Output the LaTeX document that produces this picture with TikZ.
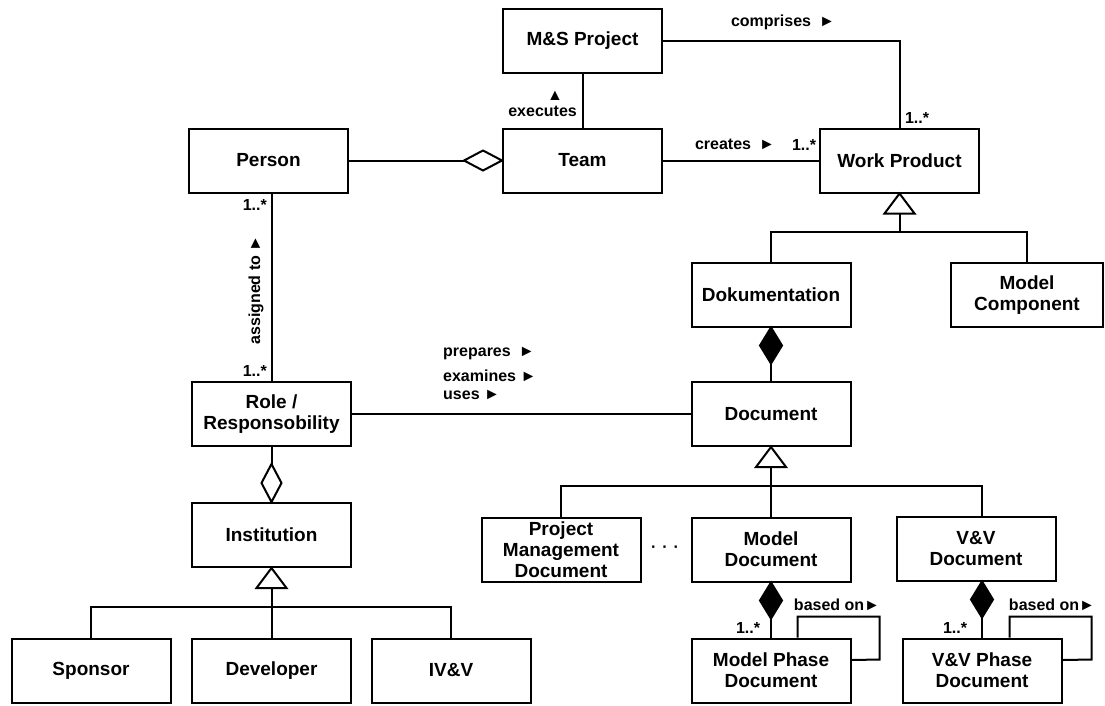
\documentclass[tikz,border=0pt]{standalone}
\usepackage{fontspec}
\setmainfont{Liberation Sans}
\usetikzlibrary{calc}
\begin{document}
\begin{tikzpicture}[x=1pt,y=-1pt,
  cls/.style={draw,line width=2pt,rectangle,minimum width=159pt,minimum height=64pt,
    inner sep=0pt,align=center,font=\fontsize{19}{21}\selectfont\bfseries},
  lbl/.style={font=\fontsize{16}{18}\selectfont\bfseries,inner sep=0pt},
  conn/.style={line width=2pt},
  hollow/.style={line width=2pt,fill=white},
  solid/.style={line width=2pt,fill=black}]
\useasboundingbox (0,0) rectangle (1105,705);

% classes
\node[cls] (msp) at (582.5,40.5) {M\&S Project};
\node[cls] (team) at (582.5,160.5) {Team};
\node[cls] (person) at (268.5,160.5) {Person};
\node[cls] (wp) at (899.5,160.5) {Work Product};
\node[cls] (doku) at (771,294.5) {Dokumentation};
\node[cls,minimum width=152pt] (mc) at (1027,295) {Model\\Component};
\node[cls] (role) at (271.5,414) {Role /\\Responsobility};
\node[cls] (inst) at (271.5,535) {Institution};
\node[cls] (spon) at (91,670.5) {Sponsor};
\node[cls] (dev) at (271.5,670.5) {Developer};
\node[cls] (ivv) at (451,670.5) {IV\&V};
\node[cls] (doc) at (771,414) {Document};
\node[cls] (pmd) at (561,550) {Project\\Management\\Document};
\node[cls] (mdoc) at (771,549.5) {Model\\Document};
\node[cls] (vvdoc) at (976,548.5) {V\&V\\Document};
\node[cls] (mpd) at (771,670.5) {Model Phase\\Document};
\node[cls] (vvpd) at (982,670.5) {V\&V Phase\\Document};

% team aggregates persons
\draw[conn] (person.east) -- ($(team.west)+(-38,0)$);
\draw[hollow] (team.west) -- ++(-19,-10) -- ++(-19,10) -- ++(19,10) -- cycle;

% project executed by team
\draw[conn] (msp.south) -- (team.north);
\node[lbl,anchor=east] (lexec) at (577,111) {executes};
\node[lbl] (lexecarr) at (555,96) {▲};

% project comprises work products
\draw[conn] (msp.east) -| (wp.north);
\node[lbl] (lcomp) at (783,22) {comprises\enspace►};
\node[lbl] (mcomp) at (917,118) {1..*};

% team creates work products
\draw[conn] (team.east) -- (wp.west);
\node[lbl] (lcreate) at (735,144) {creates\enspace►};
\node[lbl] (mcreate) at (804,145) {1..*};

% work product specialisations
\draw[hollow] (wp.south) -- ++(-15,20) -- ++(30,0) -- cycle;
\draw[conn] ($(wp.south)+(0,20)$) -- ++(0,18) coordinate (wpbar);
\draw[conn] (wpbar) -| (doku.north);
\draw[conn] (wpbar) -| (mc.north);

% documentation is composed of documents
\draw[solid] (doku.south) -- ++(-11,18) -- ++(11,18) -- ++(11,-18) -- cycle;
\draw[conn] ($(doku.south)+(0,36)$) -- (doc.north);

% person assigned to role
\draw[conn] (person.south -| role.north) -- (role.north);
\node[lbl,anchor=east] (mp1) at (267,205) {1..*};
\node[lbl,anchor=east] (mp2) at (267,371) {1..*};
\node[lbl,rotate=90] (lassign) at (256,290) {assigned to ►};

% role works on documents
\draw[conn] (role.east) -- (doc.west);
\node[lbl,anchor=west] (lprep) at (443,353) {prepares\enspace►};
\node[lbl,anchor=west] (lexam) at (443,376) {examines ►};
\node[lbl,anchor=west] (luses) at (443,395) {uses ►};

% institution aggregates roles
\draw[conn] (role.south) -- ($(inst.north)+(0,-38)$);
\draw[hollow] (inst.north) -- ++(-10,-19) -- ++(10,-19) -- ++(10,19) -- cycle;

% institution specialisations
\draw[hollow] (inst.south) -- ++(-15,20) -- ++(30,0) -- cycle;
\draw[conn] ($(inst.south)+(0,20)$) -- ++(0,19) coordinate (ibar);
\draw[conn] (ibar) -| (spon.north);
\draw[conn] (ibar) -| (ivv.north);
\draw[conn] (ibar) -- (dev.north);

% document specialisations
\draw[hollow] (doc.south) -- ++(-15,20) -- ++(30,0) -- cycle;
\draw[conn] ($(doc.south)+(0,20)$) -- ++(0,18.5) coordinate (dbar);
\draw[conn] (dbar) -| (pmd.north);
\draw[conn] (dbar) -| ($(vvdoc.north)+(6,0)$);
\draw[conn] (dbar) -- (mdoc.north);
\node[lbl] (dots) at (665,549) {·\hspace{6pt}·\hspace{6pt}·};

% model document composed of phase documents
\draw[solid] (mdoc.south) -- ++(-11,18) -- ++(11,18) -- ++(11,-18) -- cycle;
\draw[conn] ($(mdoc.south)+(0,36)$) -- (mpd.north);
\node[lbl] (mmp) at (748,628) {1..*};
\draw[conn] ([xshift=-54pt]mpd.north east) -- ++(0,-21) -- ++(82,0) -- ++(0,43) -- ([yshift=10.5pt]mpd.east);
\node[lbl] (lbase1) at (837,605) {based on►};

% V&V document composed of phase documents
\draw[solid] ($(vvdoc.south)+(6,0)$) -- ++(-11,18) -- ++(11,18) -- ++(11,-18) -- cycle;
\draw[conn] ($(vvdoc.south)+(6,36)$) -- (vvpd.north);
\node[lbl] (mvv) at (955,628) {1..*};
\draw[conn] ([xshift=-53pt]vvpd.north east) -- ++(0,-21) -- ++(82,0) -- ++(0,43) -- ([yshift=10.5pt]vvpd.east);
\node[lbl] (lbase2) at (1052,605) {based on►};
\end{tikzpicture}
\end{document}
